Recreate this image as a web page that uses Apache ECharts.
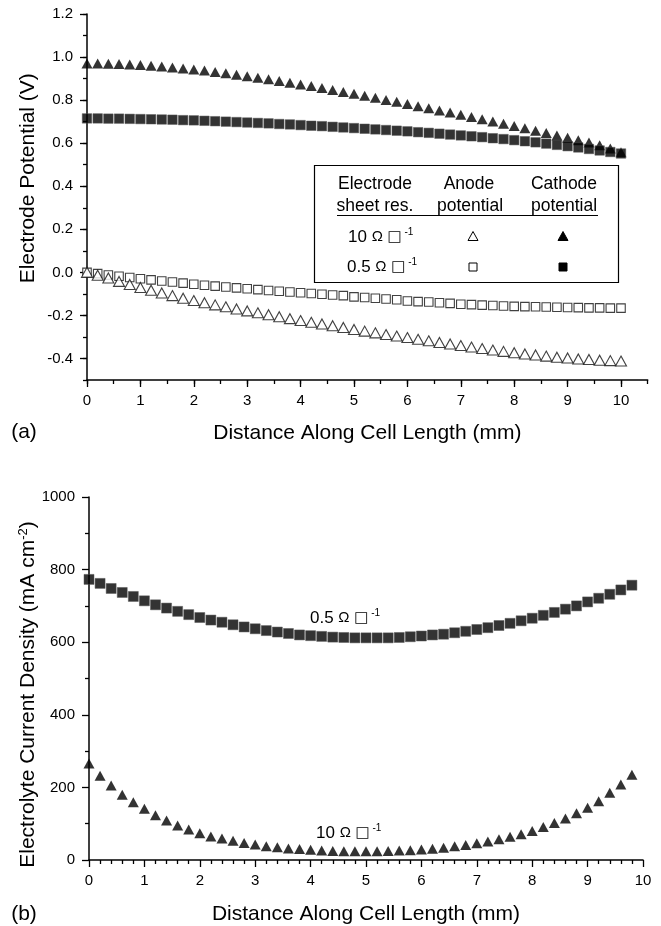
<!DOCTYPE html>
<html>
<head>
<meta charset="utf-8">
<script src="https://cdn.jsdelivr.net/npm/echarts@6/dist/echarts.min.js"></script>
<style>
  html, body { margin: 0; padding: 0; background: #fff; }
  #chart { width: 661px; height: 926px; }
</style>
</head>
<body>
<div id="chart"></div>
<script>
// (a) electrode potential vs distance, 0.2 mm spacing
const xTop = [0, 0.2, 0.4, 0.6, 0.8, 1, 1.2, 1.4, 1.6, 1.8, 2, 2.2, 2.4, 2.6, 2.8, 3, 3.2, 3.4, 3.6, 3.8,
  4, 4.2, 4.4, 4.6, 4.8, 5, 5.2, 5.4, 5.6, 5.8, 6, 6.2, 6.4, 6.6, 6.8, 7, 7.2, 7.4, 7.6, 7.8,
  8, 8.2, 8.4, 8.6, 8.8, 9, 9.2, 9.4, 9.6, 9.8, 10]
const cathode10 = [0.970, 0.970, 0.969, 0.968, 0.966, 0.963, 0.960, 0.956, 0.952, 0.947, 0.942, 0.937, 0.931, 0.925, 0.918, 0.911, 0.904, 0.897, 0.889, 0.881,
  0.873, 0.865, 0.856, 0.847, 0.838, 0.829, 0.820, 0.811, 0.801, 0.792, 0.782, 0.772, 0.762, 0.752, 0.742, 0.732, 0.722, 0.711, 0.701, 0.690,
  0.680, 0.669, 0.658, 0.647, 0.636, 0.625, 0.614, 0.603, 0.590, 0.575, 0.558]
const cathode05 = [0.715, 0.715, 0.714, 0.714, 0.713, 0.712, 0.711, 0.710, 0.709, 0.707, 0.706, 0.704, 0.702, 0.700, 0.698, 0.696, 0.694, 0.692, 0.689, 0.687,
  0.684, 0.681, 0.679, 0.676, 0.673, 0.670, 0.667, 0.664, 0.661, 0.658, 0.655, 0.651, 0.648, 0.644, 0.640, 0.636, 0.632, 0.628, 0.623, 0.619,
  0.614, 0.609, 0.604, 0.598, 0.592, 0.586, 0.580, 0.573, 0.566, 0.559, 0.552]
const anode10 = [0.000, -0.013, -0.026, -0.042, -0.056, -0.070, -0.083, -0.096, -0.108, -0.120, -0.131, -0.141, -0.151, -0.160, -0.170, -0.179, -0.188, -0.197, -0.206, -0.215,
  -0.224, -0.232, -0.240, -0.248, -0.256, -0.265, -0.273, -0.281, -0.289, -0.296, -0.303, -0.311, -0.318, -0.326, -0.333, -0.340, -0.347, -0.354, -0.361, -0.367,
  -0.373, -0.379, -0.384, -0.389, -0.394, -0.398, -0.402, -0.405, -0.408, -0.410, -0.412]
const anode05 = [0.000, -0.006, -0.012, -0.018, -0.024, -0.030, -0.035, -0.040, -0.045, -0.050, -0.055, -0.060, -0.064, -0.068, -0.072, -0.076, -0.080, -0.084, -0.088, -0.091,
  -0.095, -0.098, -0.102, -0.105, -0.108, -0.114, -0.117, -0.120, -0.124, -0.127, -0.133, -0.136, -0.138, -0.141, -0.144, -0.148, -0.150, -0.152, -0.154, -0.156,
  -0.158, -0.159, -0.160, -0.161, -0.162, -0.163, -0.164, -0.165, -0.165, -0.166, -0.166]

// (b) electrolyte current density
const xBottom = [0, 0.2, 0.4, 0.6, 0.8, 1, 1.2, 1.4, 1.6, 1.8, 2, 2.2, 2.4, 2.6, 2.8, 3, 3.2, 3.4, 3.6, 3.8,
  4, 4.2, 4.4, 4.6, 4.8, 5, 5.2, 5.4, 5.6, 5.8, 6, 6.2, 6.4, 6.6, 6.8, 7, 7.2, 7.4, 7.6, 7.8,
  8, 8.2, 8.4, 8.6, 8.8, 9, 9.2, 9.4, 9.6, 9.8]
const current05 = [773, 762, 748, 737, 726, 714, 703, 694, 685, 676, 668, 661, 655, 648, 642, 637, 632, 628, 624, 620,
  618, 616, 614, 613, 612, 612, 612, 612, 613, 615, 617, 620, 622, 626, 630, 635, 640, 646, 652, 659,
  666, 674, 682, 691, 700, 711, 721, 732, 744, 757]
const current10 = [266, 232, 205, 180, 159, 141, 123, 109, 95, 84, 74, 65, 59, 53, 47, 43, 38, 35, 32, 30,
  28, 26, 25, 24, 24, 24, 24, 25, 26, 27, 29, 31, 34, 38, 41, 46, 51, 57, 64, 71,
  80, 91, 102, 114, 129, 144, 162, 185, 208, 235]

const FONT = "'Liberation Sans', Arial, sans-serif"
const black = '#000'

const chart = echarts.init(document.getElementById('chart'))

function zip(xs, ys) {
  return xs.map((x, i) => [x, ys[i]])
}

const axisLine = { onZero: false, lineStyle: { color: black, width: 1.5 } }
const noLine = { show: false, onZero: false }
const tickStyle = { color: black, width: 1.3 }
const labelStyle = { color: black, fontSize: 15, fontFamily: FONT }
const nameStyle = { color: black, fontSize: 21, fontFamily: FONT }

const symRich = {
  n: { fontSize: 17, fontFamily: FONT, color: black, lineHeight: 20 },
  o: { fontSize: 15, fontFamily: FONT, color: black, lineHeight: 20 },
  b: { fontSize: 15, fontFamily: 'DejaVu Sans', color: '#777', lineHeight: 20 },
  s: { fontSize: 10, fontFamily: FONT, color: black, lineHeight: 20, verticalAlign: 'top' }
}

function txt(x, y, text, align, size) {
  return {
    type: 'text',
    style: { x, y, text, align: align || 'center', verticalAlign: 'middle', fontSize: size || 17.5, fontFamily: FONT, fill: black }
  }
}
function richTxt(x, y, text) {
  return {
    type: 'text',
    style: { x, y, text, align: 'left', verticalAlign: 'middle', rich: symRich, fill: black }
  }
}
function tri(cx, cy, filled) {
  return {
    type: 'polygon',
    shape: { points: [[cx - 5, cy + 4.5], [cx + 5, cy + 4.5], [cx, cy - 4.5]] },
    style: { fill: filled ? black : '#fff', stroke: black, lineWidth: 1 }
  }
}
function sq(cx, cy, filled) {
  return {
    type: 'rect',
    shape: { x: cx - 4, y: cy - 4, width: 8, height: 8 },
    style: { fill: filled ? black : '#fff', stroke: black, lineWidth: 1 }
  }
}

const option = {
  backgroundColor: '#fff',
  animation: false,
  grid: [
    // (a) data grid: x 0..10.5, y -0.5..1.2
    { left: 87, top: 14, width: 560.7, height: 366 },
    // (b)
    { left: 89, top: 497, width: 554, height: 366 },
    // (a) overlay for major x ticks 0..10
    { left: 87, top: 14, width: 534, height: 366 },
    // (a) overlay for major y ticks -0.4..1.2
    { left: 87, top: 14, width: 560.7, height: 344.5 }
  ],
  xAxis: [
    {
      gridIndex: 0, type: 'value', position: 'bottom', min: 0, max: 10.5, interval: 0.5,
      axisLine, splitLine: { show: false }, axisLabel: { show: false },
      axisTick: { length: 4, lineStyle: tickStyle },
      name: 'Distance Along Cell Length (mm)', nameLocation: 'middle', nameGap: 43,
      nameMoveOverlap: false, nameTextStyle: nameStyle
    },
    {
      gridIndex: 1, type: 'value', position: 'bottom', min: 0, max: 10, interval: 1,
      axisLine, splitLine: { show: false },
      axisTick: { length: 7, lineStyle: tickStyle },
      minorTick: { show: true, splitNumber: 5, length: 4, lineStyle: tickStyle },
      axisLabel: Object.assign({ margin: 13 }, labelStyle),
      name: 'Distance Along Cell Length (mm)', nameLocation: 'middle', nameGap: 44,
      nameMoveOverlap: false, nameTextStyle: nameStyle
    },
    {
      gridIndex: 2, type: 'value', position: 'bottom', min: 0, max: 10, interval: 1,
      axisLine: noLine, splitLine: { show: false },
      axisTick: { length: 7, lineStyle: tickStyle },
      axisLabel: Object.assign({ margin: 13 }, labelStyle)
    },
    {
      gridIndex: 3, type: 'value', show: false, min: 0, max: 10.5, axisLine: noLine
    }
  ],
  yAxis: [
    {
      gridIndex: 0, type: 'value', position: 'left', min: -0.5, max: 1.2, interval: 0.1,
      axisLine, splitLine: { show: false }, axisLabel: { show: false },
      axisTick: { length: 4, lineStyle: tickStyle }
    },
    {
      gridIndex: 1, type: 'value', position: 'left', min: 0, max: 1000, interval: 200,
      axisLine, splitLine: { show: false },
      axisTick: { length: 7, lineStyle: tickStyle },
      minorTick: { show: true, splitNumber: 2, length: 4, lineStyle: tickStyle },
      axisLabel: Object.assign({ margin: 14, formatter: v => String(v) }, labelStyle),
      name: 'Electrolyte Current Density (mA cm{s|-2})', nameLocation: 'middle', nameGap: 50,
      nameMoveOverlap: false,
      nameTextStyle: Object.assign({
        padding: [0, 32, 0, 0],
        rich: { s: { fontSize: 13, fontFamily: FONT, color: black, verticalAlign: 'top', lineHeight: 22 } }
      }, nameStyle)
    },
    {
      gridIndex: 2, type: 'value', show: false, min: -0.5, max: 1.2, axisLine: noLine
    },
    {
      gridIndex: 3, type: 'value', position: 'left', min: -0.4, max: 1.2, interval: 0.2,
      axisLine: noLine, splitLine: { show: false },
      axisTick: { length: 7, lineStyle: tickStyle },
      axisLabel: Object.assign({ margin: 14, formatter: v => v.toFixed(1) }, labelStyle),
      name: 'Electrode Potential (V)', nameLocation: 'middle', nameGap: 48,
      nameMoveOverlap: false,
      nameTextStyle: Object.assign({ padding: [0, 0, 0, 16] }, nameStyle)
    }
  ],
  series: [
    {
      name: 'cathode 10', type: 'scatter', xAxisIndex: 0, yAxisIndex: 0, clip: false,
      symbol: 'triangle', symbolSize: [11, 10], itemStyle: { color: black },
      data: zip(xTop, cathode10)
    },
    {
      name: 'cathode 0.5', type: 'scatter', xAxisIndex: 0, yAxisIndex: 0, clip: false,
      symbol: 'rect', symbolSize: 9.5, itemStyle: { color: black, borderColor: '#555', borderWidth: 0.6 },
      data: zip(xTop, cathode05)
    },
    {
      name: 'anode 0.5', type: 'scatter', xAxisIndex: 0, yAxisIndex: 0, clip: false,
      symbol: 'rect', symbolSize: 8.5, itemStyle: { color: '#fff', borderColor: '#111', borderWidth: 1.1 },
      data: zip(xTop, anode05)
    },
    {
      name: 'anode 10', type: 'scatter', xAxisIndex: 0, yAxisIndex: 0, clip: false,
      symbol: 'triangle', symbolSize: [11, 10], itemStyle: { color: '#fff', borderColor: '#111', borderWidth: 1.1 },
      data: zip(xTop, anode10)
    },
    {
      name: 'current 0.5', type: 'scatter', xAxisIndex: 1, yAxisIndex: 1, clip: false,
      symbol: 'rect', symbolSize: 10, itemStyle: { color: black, borderColor: '#555', borderWidth: 0.6 },
      data: zip(xBottom, current05)
    },
    {
      name: 'current 10', type: 'scatter', xAxisIndex: 1, yAxisIndex: 1, clip: false,
      symbol: 'triangle', symbolSize: [11, 10], itemStyle: { color: black },
      data: zip(xBottom, current10)
    }
  ],
  graphic: [
    {
      type: 'rect',
      shape: { x: 314.5, y: 165.5, width: 304, height: 117 },
      style: { fill: '#fff', stroke: black, lineWidth: 1.2 },
      z: 10
    },
    {
      type: 'line',
      shape: { x1: 337, y1: 215.5, x2: 598, y2: 215.5 },
      style: { stroke: black, lineWidth: 1 },
      z: 11
    },
    Object.assign(txt(375, 184, 'Electrode'), { z: 11 }),
    Object.assign(txt(375, 206, 'sheet res.'), { z: 11 }),
    Object.assign(txt(469, 184, 'Anode'), { z: 11 }),
    Object.assign(txt(470, 206, 'potential'), { z: 11 }),
    Object.assign(txt(564, 184, 'Cathode'), { z: 11 }),
    Object.assign(txt(564, 206, 'potential'), { z: 11 }),
    Object.assign(richTxt(348, 237, '{n|10 }{o|Ω}{n| }{b|□}{s| -1}'), { z: 11 }),
    Object.assign(richTxt(347, 267, '{n|0.5 }{o|Ω}{n| }{b|□}{s| -1}'), { z: 11 }),
    Object.assign(tri(473, 236, false), { z: 11 }),
    Object.assign(tri(563, 236, true), { z: 11 }),
    Object.assign(sq(473, 267, false), { z: 11 }),
    Object.assign(sq(563, 267, true), { z: 11 }),
    richTxt(310, 618, '{n|0.5 }{o|Ω}{n| }{b|□}{s| -1}'),
    richTxt(316, 833, '{n|10 }{o|Ω}{n| }{b|□}{s| -1}'),
    txt(24, 432, '(a)', 'center', 21),
    txt(24, 914, '(b)', 'center', 21)
  ]
}

chart.setOption(option)
window.addEventListener('resize', () => chart.resize())
</script>
</body>
</html>
